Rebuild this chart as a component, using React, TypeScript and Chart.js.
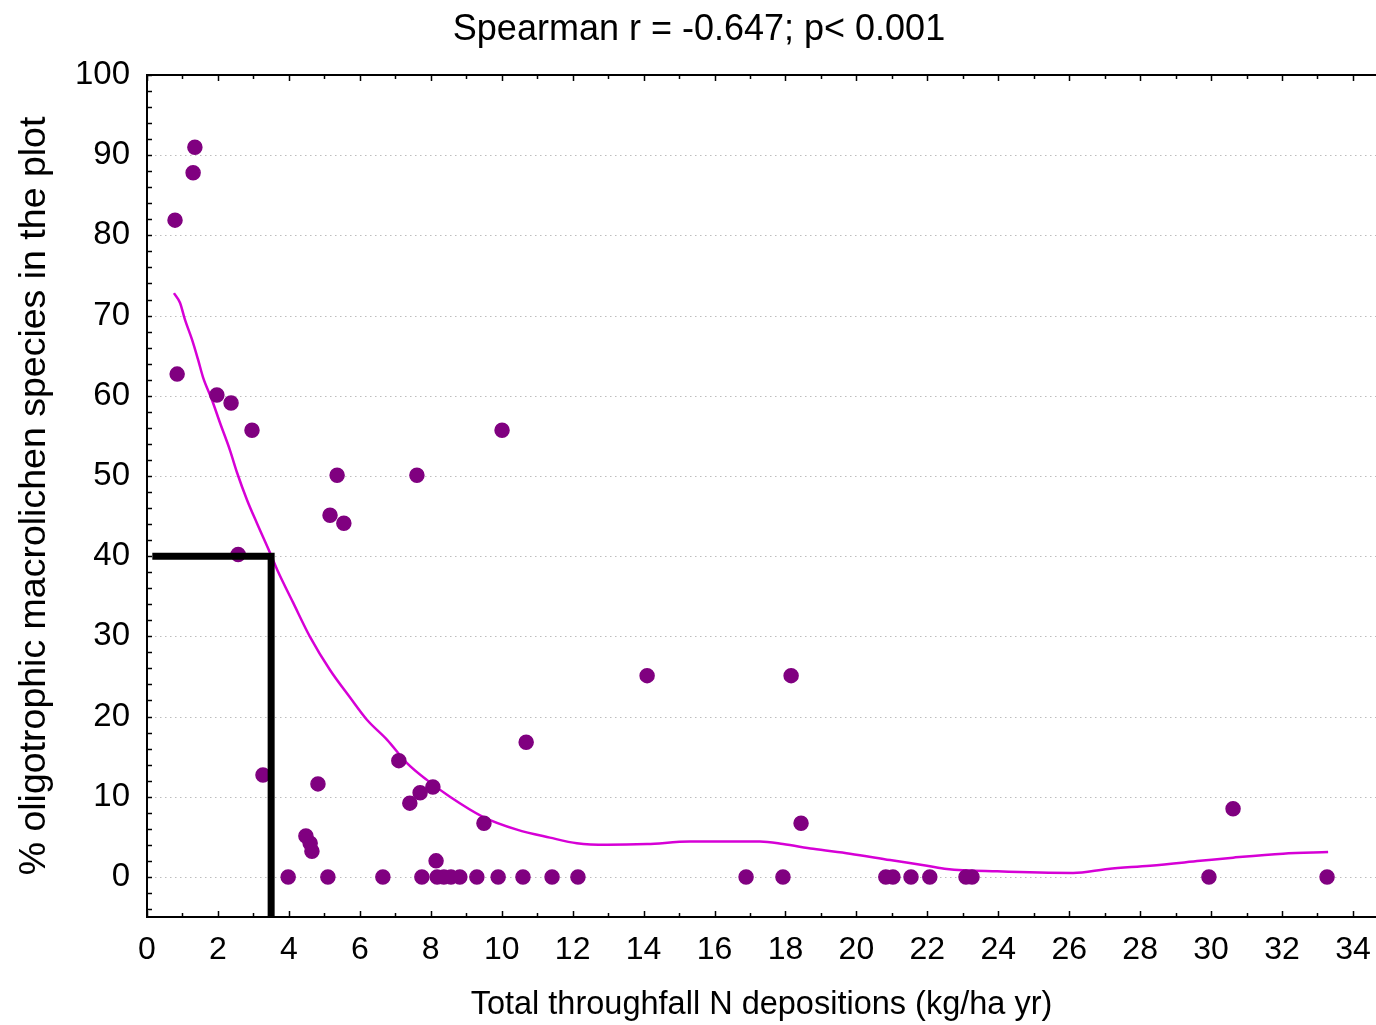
import React, { useEffect, useRef } from "react";
import { Chart, registerables } from "chart.js";

Chart.register(...registerables);

// Scatter observations: total throughfall N deposition (kg/ha yr) vs % oligotrophic macrolichens
const nDeposition = [
  0.79, 1.3, 1.35, 0.85, 1.97, 2.37, 2.96, 2.57, 3.27, 3.98,
  4.48, 4.6, 4.65, 4.82, 5.1, 5.16, 5.36, 5.55, 6.65, 7.1,
  7.41, 7.61, 7.7, 8.06, 8.15, 7.75, 8.18, 8.37, 8.57, 8.82,
  9.3, 9.5, 9.9, 10.01, 10.6, 10.69, 11.42, 12.15, 14.1, 16.89,
  17.93, 18.16, 18.44, 20.83, 21.03, 21.54, 22.07, 23.09, 23.26, 29.94,
  30.62, 33.27,
];
const oligoPercent = [
  81.9, 87.8, 91.0, 62.7, 60.1, 59.1, 55.7, 40.2, 12.7, 0,
  5.1, 4.2, 3.2, 11.6, 0, 45.1, 50.1, 44.1, 0, 14.5,
  9.2, 50.1, 10.5, 11.2, 2.0, 0, 0, 0, 0, 0,
  0, 6.7, 0, 55.7, 0, 16.8, 0, 0, 25.1, 0,
  0, 25.1, 6.7, 0, 0, 0, 0, 0, 0, 0,
  8.5, 0,
];

// Smoothed fit curve
const curveX = [
  0.76, 0.93, 1.07, 1.27, 1.44, 1.58, 1.83, 2.06, 2.34, 2.54,
  2.82, 3.1, 3.47, 3.67, 4.12, 4.6, 5.16, 5.72, 6.2, 6.77,
  7.33, 7.89, 8.54, 9.47, 10.43, 11.36, 12.12, 12.97, 14.1, 15.31,
  17.28, 17.93, 18.78, 19.82, 20.95, 21.99, 22.55, 23.97, 26.11, 27.09,
  28.28, 29.69, 30.62, 32.03, 33.3,
];
const curveY = [
  72.8, 71.6, 69.5, 67.0, 64.5, 62.3, 59.5, 56.6, 53.2, 50.4,
  47.0, 44.1, 40.4, 38.3, 34.2, 29.9, 25.8, 22.4, 19.6, 17.1,
  14.2, 12.1, 10.0, 7.5, 5.9, 4.9, 4.2, 4.0, 4.1, 4.4,
  4.4, 4.1, 3.5, 2.9, 2.1, 1.4, 1.0, 0.7, 0.5, 1.0,
  1.4, 2.0, 2.4, 2.9, 3.1,
];

// Threshold marker (L shape)
const thresholdX = [0.15, 3.5, 3.5];
const thresholdY = [40, 40, -5];

const gridValues = [0, 10, 20, 30, 40, 50, 60, 70, 80, 90];

const titleText = "Spearman r = -0.647; p< 0.001";
const xTitle = "Total throughfall N depositions (kg/ha yr)";
const yTitle = "% oligotrophic macrolichen species in the plot";

const FONT = "'Liberation Sans', Arial, Helvetica, sans-serif";

const framePlugin = {
  id: "frame",
  beforeDatasetsDraw(chart: any) {
    const { ctx, chartArea, scales } = chart;
    const { left, right, top, bottom } = chartArea;
    const x = scales.x;
    const y = scales.y;
    ctx.save();
    // dotted grid lines
    ctx.strokeStyle = "#bdbdbd";
    ctx.lineWidth = 1;
    ctx.setLineDash([1.5, 3.5]);
    for (const v of gridValues) {
      const py = Math.round(y.getPixelForValue(v)) + 0.5;
      ctx.beginPath();
      ctx.moveTo(left + 8, py);
      ctx.lineTo(right, py);
      ctx.stroke();
    }
    ctx.setLineDash([]);
    // inward ticks
    ctx.strokeStyle = "#000";
    ctx.lineWidth = 1.5;
    for (const t of x.ticks) {
      const v = t.value;
      if (Math.abs(v - Math.round(v)) > 1e-6) continue;
      const px = Math.round(x.getPixelForValue(v)) + 0.5;
      const len = Math.round(v) % 2 === 0 ? 6 : 4;
      ctx.beginPath();
      ctx.moveTo(px, bottom);
      ctx.lineTo(px, bottom - len);
      ctx.moveTo(px, top);
      ctx.lineTo(px, top + len);
      ctx.stroke();
    }
    for (const t of y.ticks) {
      const v = t.value;
      if (Math.abs(v - Math.round(v)) > 1e-6) continue;
      const py = Math.round(y.getPixelForValue(v)) + 0.5;
      ctx.beginPath();
      ctx.moveTo(left, py);
      ctx.lineTo(left + 5, py);
      ctx.stroke();
    }
    // frame
    ctx.lineWidth = 2;
    ctx.beginPath();
    ctx.moveTo(right, top);
    ctx.lineTo(left, top);
    ctx.lineTo(left, bottom);
    ctx.lineTo(right, bottom);
    ctx.stroke();
    ctx.restore();
  },
};

export default function App() {
  const ref = useRef<HTMLCanvasElement | null>(null);

  useEffect(() => {
    document.body.style.margin = "0";
    const canvas = ref.current;
    if (!canvas) return;

    const scatterData = nDeposition.map((v, i) => ({ x: v, y: oligoPercent[i] }));
    const curveData = curveX.map((v, i) => ({ x: v, y: curveY[i] }));
    const thresholdData = thresholdX.map((v, i) => ({ x: v, y: thresholdY[i] }));

    const chart = new Chart(canvas, {
      type: "scatter",
      data: {
        datasets: [
          {
            label: "threshold",
            data: thresholdData,
            showLine: true,
            borderColor: "#000",
            borderWidth: 7,
            borderJoinStyle: "miter",
            borderCapStyle: "butt",
            pointRadius: 0,
            order: 0,
          } as any,
          {
            label: "observations",
            data: scatterData,
            backgroundColor: "#800080",
            borderColor: "#800080",
            borderWidth: 1.5,
            pointRadius: 7,
            order: 1,
          },
          {
            label: "fit",
            data: curveData,
            showLine: true,
            borderColor: "#d600d6",
            borderWidth: 2.5,
            pointRadius: 0,
            cubicInterpolationMode: "monotone",
            order: 2,
          } as any,
        ],
      },
      options: {
        animation: false,
        responsive: false,
        devicePixelRatio: 1,
        layout: { padding: { left: 22, right: 0, top: 0, bottom: 0 }, autoPadding: false },
        plugins: {
          legend: { display: false },
          tooltip: { enabled: false },
          title: {
            display: true,
            text: titleText,
            color: "#000",
            font: { family: FONT, size: 36, weight: "normal" },
            padding: { top: 8, bottom: 23.8 },
          },
        },
        scales: {
          x: {
            type: "linear",
            min: 0,
            max: 34.65,
            grid: { display: false, drawTicks: false },
            border: { display: false },
            ticks: {
              stepSize: 1,
              includeBounds: false,
              autoSkip: false,
              maxRotation: 0,
              padding: 14,
              color: "#000",
              font: { family: FONT, size: 32 },
              callback: (v: any) => {
                const n = Number(v);
                return Math.abs(n % 2) < 1e-6 ? String(n) : "";
              },
            },
            title: {
              display: true,
              text: xTitle,
              color: "#000",
              font: { family: FONT, size: 32.5 },
              padding: { top: 0, bottom: 0 },
            },
            afterFit: (s: any) => {
              s.height = 108;
              s.paddingLeft = 0;
              s.paddingRight = 0;
            },
          },
          y: {
            type: "linear",
            min: -5,
            max: 100,
            grid: { display: false, drawTicks: false },
            border: { display: false },
            ticks: {
              stepSize: 2,
              includeBounds: false,
              autoSkip: false,
              padding: 17,
              color: "#000",
              font: { family: FONT, size: 33 },
              callback: (v: any) => {
                const n = Number(v);
                return n >= 0 && Math.abs(n % 10) < 1e-6 ? String(n) : "";
              },
            },
            title: {
              display: true,
              text: yTitle,
              color: "#000",
              font: { family: FONT, size: 37.5 },
              padding: { top: -10, bottom: 0 },
            },
            afterFit: (s: any) => {
              s.width = 125;
              s.paddingTop = 0;
              s.paddingBottom = 0;
            },
          },
        },
      },
      plugins: [framePlugin],
    });

    return () => chart.destroy();
  }, []);

  return (
    <div style={{ width: 1376, height: 1025 }}>
      <canvas ref={ref} width={1376} height={1025} style={{ display: "block" }} />
    </div>
  );
}
